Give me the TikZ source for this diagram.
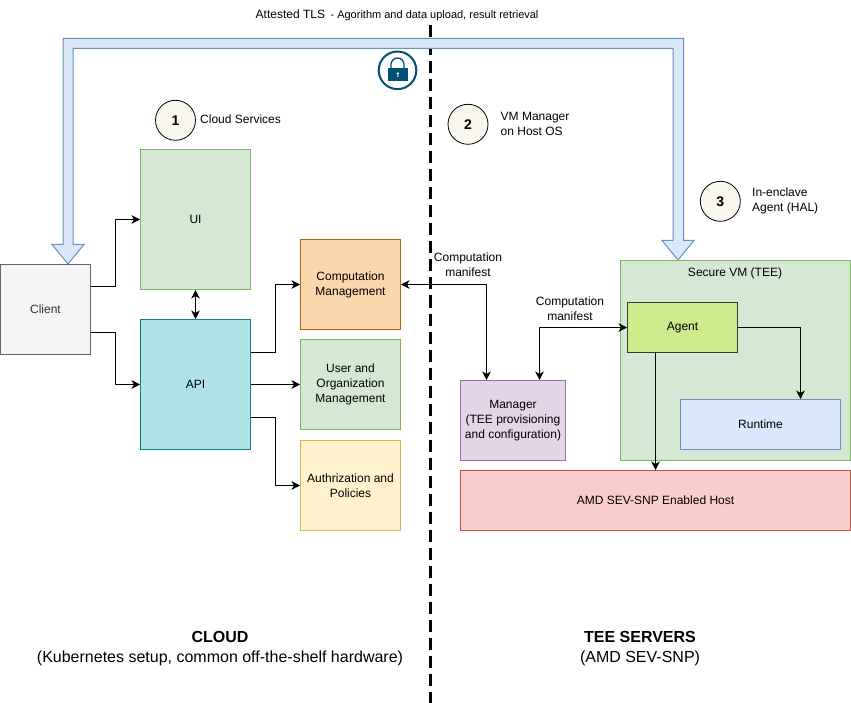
\documentclass[tikz,border=0pt]{standalone}
\usepackage{fontspec}
\setmainfont{Liberation Sans}
\usetikzlibrary{arrows.meta}
\definecolor{GreenFill}{HTML}{D5E8D4}
\definecolor{GreenLine}{HTML}{82B366}
\definecolor{OrangeFill}{HTML}{FAD7AC}
\definecolor{OrangeLine}{HTML}{B46504}
\definecolor{TealFill}{HTML}{B0E3E6}
\definecolor{TealLine}{HTML}{0E8088}
\definecolor{YellowFill}{HTML}{FFF2CC}
\definecolor{YellowLine}{HTML}{D6B656}
\definecolor{PurpleFill}{HTML}{E1D5E7}
\definecolor{PurpleLine}{HTML}{9673A6}
\definecolor{BlueFill}{HTML}{DAE8FC}
\definecolor{BlueLine}{HTML}{6C8EBF}
\definecolor{RedFill}{HTML}{F8CECC}
\definecolor{RedLine}{HTML}{B85450}
\definecolor{AgentFill}{HTML}{CDEB8B}
\definecolor{AgentLine}{HTML}{36393D}
\definecolor{ClientFill}{HTML}{F5F5F5}
\definecolor{ClientLine}{HTML}{666666}
\definecolor{BadgeFill}{HTML}{F9F7ED}
\definecolor{LockBlue}{HTML}{005073}
\tikzset{
	box/.style={draw,line width=1pt,inner sep=0pt,align=center,font=\fontsize{12}{15}\selectfont},
	link/.style={line width=1pt,-{Stealth[length=8.5pt,width=8.5pt,inset=2.5pt]}},
	both/.style={line width=1pt,{Stealth[length=8.5pt,width=8.5pt,inset=2.5pt]}-{Stealth[length=8.5pt,width=8.5pt,inset=2.5pt]}},
	badge/.style={circle,draw=black,fill=BadgeFill,line width=0.8pt,minimum size=40pt,inner sep=0pt,font=\fontsize{14}{16}\selectfont\bfseries},
	note/.style={inner sep=0pt,align=left,font=\fontsize{12}{15}\selectfont},
	manifest/.style={inner sep=0pt,align=center,font=\fontsize{12}{15}\selectfont},
	title/.style={inner sep=0pt,align=center,font=\fontsize{16}{20}\selectfont}
}
\begin{document}
\begin{tikzpicture}[x=1pt,y=-1pt]
	\useasboundingbox (0,0) rectangle (851,703);
	% divider
	\draw[line width=3pt,dash pattern=on 12pt off 6pt] (430.5,25.5) -- (430.5,703);
	% attested TLS channel
	\draw[draw=BlueLine,fill=BlueFill,line width=1pt] (68,264) -- (52,244.5) -- (63,244.5) -- (63,38.5) -- (683.5,38.5) -- (683.5,240.5) -- (694,240.5) -- (678,260) -- (662,240.5) -- (673,240.5) -- (673,48.5) -- (73,48.5) -- (73,244.5) -- (84,244.5) -- cycle;
	\node[anchor=west,inner sep=0pt,font=\fontsize{12}{14}\selectfont] (TLS) at (255.5,15) {Attested TLS\hspace{5.5pt}{\fontsize{11}{14}\selectfont- Agorithm and data upload, result retrieval}};
	% lock
	\draw[draw=LockBlue,line width=2pt] (397.5,70.3) circle (18.8);
	\fill[LockBlue] (387.7,68.5) rectangle (408,81);
	\draw[draw=LockBlue,line width=1.3pt] (391,68.5) -- (391,64.5) arc (180:360:6.5) -- (404,68.5);
	\fill[white] (397.8,73.5) circle (1.2) (397.3,74) rectangle (398.3,77);
	% blocks
	\node[box,fill=ClientFill,draw=ClientLine,text=black!80,minimum width=90pt,minimum height=90pt] (Client) at (45.5,309.5) {Client};
	\node[box,fill=GreenFill,draw=GreenLine,minimum width=110pt,minimum height=140pt] (UI) at (195.5,219.5) {UI};
	\node[box,fill=TealFill,draw=TealLine,minimum width=110pt,minimum height=130pt] (API) at (195.5,384.5) {API};
	\node[box,fill=OrangeFill,draw=OrangeLine,minimum width=100pt,minimum height=90pt] (Computation) at (350.5,284.5) {Computation\\Management};
	\node[box,fill=GreenFill,draw=GreenLine,minimum width=100pt,minimum height=90pt] (Users) at (350.5,384.5) {User and\\Organization\\Management};
	\node[box,fill=YellowFill,draw=YellowLine,minimum width=100pt,minimum height=90pt] (Policies) at (350.5,485.5) {Authrization and\\Policies};
	\node[box,fill=PurpleFill,draw=PurpleLine,minimum width=105pt,minimum height=80pt] (Manager) at (513,420.5) {Manager\\(TEE provisioning\\and configuration)};
	\node[box,fill=GreenFill,draw=GreenLine,minimum width=230pt,minimum height=200pt] (SecureVM) at (735.5,360.5) {};
	\node[inner sep=0pt,font=\fontsize{12}{14}\selectfont] (SecureLabel) at (735,273.5) {Secure VM (TEE)};
	\node[box,fill=AgentFill,draw=AgentLine,minimum width=110pt,minimum height=50pt] (Agent) at (682.5,327.5) {Agent};
	\node[box,fill=BlueFill,draw=BlueLine,minimum width=160pt,minimum height=50pt] (Runtime) at (760.5,424.5) {Runtime};
	\node[box,fill=RedFill,draw=RedLine,minimum width=390pt,minimum height=60pt] (Host) at (655.5,500.5) {AMD SEV-SNP Enabled Host};
	% numbered notes
	\node[badge] (One) at (175.5,120.3) {1};
	\node[note,anchor=west] (OneLabel) at (200,119.5) {Cloud Services};
	\node[badge] (Two) at (468,124.3) {2};
	\node[note,anchor=west] (TwoLabel) at (500.5,124) {VM Manager\\on Host OS};
	\node[badge] (Three) at (720.3,201.3) {3};
	\node[note,anchor=west] (ThreeLabel) at (752,201) {In-enclave\\Agent (HAL)};
	\node[manifest] (ManifestA) at (468,265) {Computation\\manifest};
	\node[manifest] (ManifestB) at (570,309) {Computation\\manifest};
	% stubs on the block sides
	\coordinate (ClientUp) at (Client.east |- 0,287);
	\coordinate (ClientDown) at (Client.east |- 0,332);
	\coordinate (APIUp) at (API.east |- 0,352);
	\coordinate (APIDown) at (API.east |- 0,417);
	\coordinate (ManagerLeft) at (486.5,0 |- Manager.north);
	\coordinate (ManagerRight) at (539.5,0 |- Manager.north);
	\coordinate (RuntimeTop) at (800.5,0 |- Runtime.north);
	\coordinate (AgentBottom) at (655.5,0 |- Agent.south);
	\coordinate (HostTop) at (655.5,0 |- Host.north);
	% connectors
	\draw[link] (ClientUp) -- (115.5,287) |- (UI.west);
	\draw[link] (ClientDown) -- (115.5,332) |- (API.west);
	\draw[both] (UI.south) -- (API.north);
	\draw[link] (APIUp) -- (275.5,352) |- (Computation.west);
	\draw[link] (API.east) -- (Users.west);
	\draw[link] (APIDown) -- (275.5,417) |- (Policies.west);
	\draw[both] (Computation.east) -| (ManagerLeft);
	\draw[both] (Agent.west) -| (ManagerRight);
	\draw[link] (Agent.east) -| (RuntimeTop);
	\draw[link] (AgentBottom) -- (HostTop);
	% footers
	\node[title] (Cloud) at (220,649) {\textbf{CLOUD}\\(Kubernetes setup, common off-the-shelf hardware)};
	\node[title] (Servers) at (640,649) {\textbf{TEE SERVERS}\\(AMD SEV-SNP)};
\end{tikzpicture}
\end{document}
